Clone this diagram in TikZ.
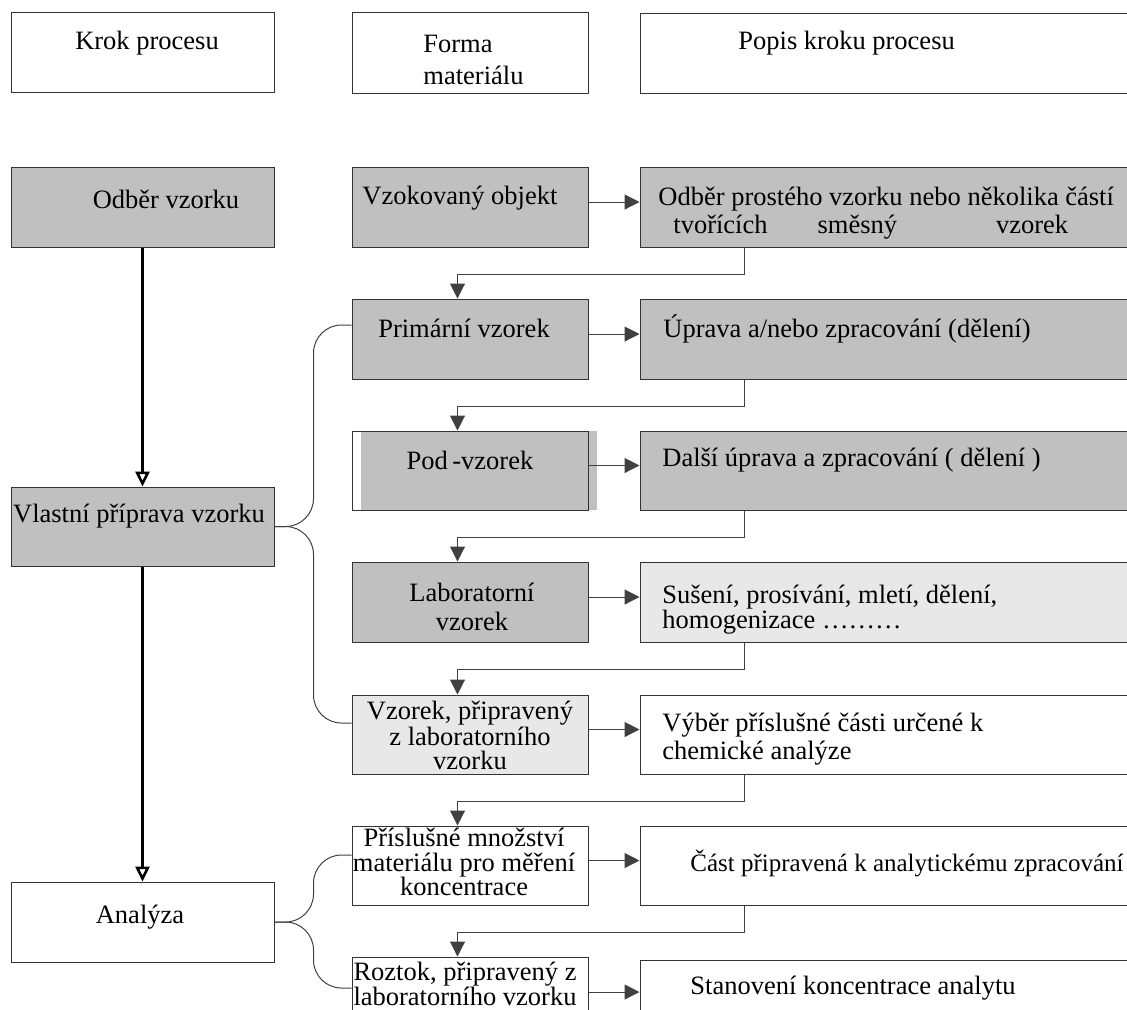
\documentclass[tikz,border=0pt]{standalone}
\usepackage{fontspec}
\setmainfont{Liberation Serif}
\usetikzlibrary{fit,arrows.meta}

\definecolor{boxgray}{HTML}{C0C0C0}
\definecolor{palegray}{HTML}{E8E8E8}

\tikzset{
  box/.style={draw=black!80, line width=0.5pt, inner sep=0pt},
  darkbox/.style={box, fill=boxgray},
  palebox/.style={box, fill=palegray},
  txt/.style={inner sep=0pt, font=\fontsize{13.25}{16}\selectfont},
  flow/.style={draw=black!75, line width=0.5pt, -{Triangle[length=7.5pt,width=7.5pt]}},
  mainflow/.style={line width=1.5pt, -{Triangle[open,length=7.5pt,width=7pt,line width=1.3pt]}},
  brace/.style={draw=black!75, line width=0.5pt, rounded corners=14pt},
}

\begin{document}
\begin{tikzpicture}[x=0.5pt,y=-0.5pt]
  \clip (0,0) rectangle (1127,1009);

  % header
  \node[box, fit={(11,12) (274,92)}] (h1) {};
  \node[box, fit={(352,12) (588,93)}] (h2) {};
  \node[box, fit={(640,13) (1140,93)}] (h3) {};
  \node[txt] (h1-t) at (147,43) {Krok procesu};
  \node[txt, anchor=west, align=left] (h2-t) at (423,60) {Forma\\materiálu};
  \node[txt, anchor=west] (h3-t) at (738,43) {Popis kroku procesu};

  % krok procesu
  \node[darkbox, fit={(11,167) (274,247)}] (k1) {};
  \node[darkbox, fit={(11,487) (274,566)}] (k2) {};
  \node[box, fit={(11,882) (274,962)}] (k3) {};

  % forma materialu
  \node[darkbox, fit={(352,167) (588,247)}] (f1) {};
  \node[darkbox, fit={(352,299) (588,379)}] (f2) {};
  \fill[boxgray] (361,431) rectangle (597,510);
  \node[box, fit={(352,431) (588,510)}] (f3) {};
  \node[darkbox, fit={(352,562) (588,642)}] (f4) {};
  \node[palebox, fit={(352,695) (588,774)}] (f5) {};
  \node[box, fit={(352,826) (588,905)}] (f6) {};
  \node[box, fit={(352,957) (588,1037)}] (f7) {};

  % popis kroku
  \node[darkbox, fit={(640,167) (1140,247)}] (p1) {};
  \node[darkbox, fit={(640,299) (1140,379)}] (p2) {};
  \node[darkbox, fit={(640,431) (1140,510)}] (p3) {};
  \node[palebox, fit={(640,562) (1140,642)}] (p4) {};
  \node[box, fit={(640,695) (1140,774)}] (p5) {};
  \node[box, fit={(640,826) (1140,905)}] (p6) {};
  \node[box, fit={(640,960) (1140,1040)}] (p7) {};

  % texts
  \node[txt] (k1-t) at (166,199) {Odběr vzorku};
  \node[txt] (k2-t) at (139,516) {Vlastní příprava vzorku};
  \node[txt] (k3-t) at (140,917) {Analýza};

  \node[txt, anchor=west] (f1-t) at (362,198) {Vzokovaný objekt};
  \node[txt] (f2-t) at (464,328) {Primární vzorek};
  \node[txt] (f3-t) at (470,460) {Pod\,-vzorek};
  \node[txt, align=center, font=\fontsize{13.25}{14.5}\selectfont] (f4-t) at (472,607) {Laboratorní\\vzorek};
  \node[txt, align=center, font=\fontsize{13.25}{12}\selectfont] (f5-t) at (470,735) {Vzorek, připravený\\z laboratorního\\vzorku};
  \node[txt, align=center, font=\fontsize{13.25}{12.25}\selectfont] (f6-t) at (464,862) {Příslušné množství\\materiálu pro měření\\koncentrace};
  \node[txt, align=center, font=\fontsize{13.25}{12.5}\selectfont] (f7-t) at (465,984) {Roztok, připravený z\\laboratorního vzorku};

  \node[txt, anchor=west, align=left, font=\fontsize{13.25}{14}\selectfont] (p1-t) at (658,213)
    {Odběr prostého vzorku nebo několika částí\\\hspace*{7.5pt}tvořících\hspace{25pt}směsný\hspace{49.5pt}vzorek};
  \node[txt, anchor=west] (p2-t) at (663,329) {Úprava a/nebo zpracování (dělení)};
  \node[txt, anchor=west] (p3-t) at (662,460) {Další úprava a zpracování ( dělení )};
  \node[txt, anchor=west, align=left, font=\fontsize{13.25}{12.5}\selectfont] (p4-t) at (662,610) {Sušení, prosívání, mletí, dělení,\\homogenizace ………};
  \node[txt, anchor=west, align=left, font=\fontsize{13.25}{14}\selectfont] (p5-t) at (662,739) {Výběr příslušné části určené k\\chemické analýze};
  \node[txt, anchor=west, font=\fontsize{12.5}{15}\selectfont] (p6-t) at (690,863) {Část připravená k analytickému zpracování};
  \node[txt, anchor=west] (p7-t) at (690,988) {Stanovení koncentrace analytu};

  % main steps
  \draw[mainflow] (k1.south) -- (k2.north);
  \draw[mainflow] (k2.south) -- (k3.north);

  % form -> description
  \draw[flow] ([yshift=2.5pt]f1.east) -- ([yshift=2.5pt]f1.east -| p1.west);
  \draw[flow] ([yshift=2.5pt]f2.east) -- ([yshift=2.5pt]f2.east -| p2.west);
  \draw[flow] ([yshift=2.5pt]f3.east) -- ([yshift=2.5pt]f3.east -| p3.west);
  \draw[flow] ([yshift=2.5pt]f4.east) -- ([yshift=2.5pt]f4.east -| p4.west);
  \draw[flow] ([yshift=2.5pt]f5.east) -- ([yshift=2.5pt]f5.east -| p5.west);
  \draw[flow] ([yshift=2.5pt]f6.east) -- ([yshift=2.5pt]f6.east -| p6.west);
  \draw[flow] ([yshift=2.5pt]f7.east) -- ([yshift=2.5pt]f7.east -| p7.west);

  % description -> next form
  \draw[flow] ([xshift=52.5pt]p1.south west) -- ++(0,27) -| ([xshift=53pt]f2.north west);
  \draw[flow] ([xshift=52.5pt]p2.south west) -- ++(0,27) -| ([xshift=53pt]f3.north west);
  \draw[flow] ([xshift=52.5pt]p3.south west) -- ++(0,27) -| ([xshift=53pt]f4.north west);
  \draw[flow] ([xshift=52.5pt]p4.south west) -- ++(0,27) -| ([xshift=53pt]f5.north west);
  \draw[flow] ([xshift=52.5pt]p5.south west) -- ++(0,27) -| ([xshift=53pt]f6.north west);
  \draw[flow] ([xshift=52.5pt]p6.south west) -- ++(0,27) -| ([xshift=53pt]f7.north west);

  % braces
  \draw[brace] ([yshift=7pt]f2.west) -| ([xshift=19.5pt]k2.east) -- (k2.east);
  \draw[brace] ([yshift=5.75pt]f5.west) -| ([xshift=19.5pt]k2.east) -- (k2.east);
  \draw[brace] ([yshift=5.25pt]f6.west) -| ([xshift=19.5pt]k3.east) -- (k3.east);
  \draw[brace] ([yshift=4.5pt]f7.west) -| ([xshift=19.5pt]k3.east) -- (k3.east);
\end{tikzpicture}
\end{document}
